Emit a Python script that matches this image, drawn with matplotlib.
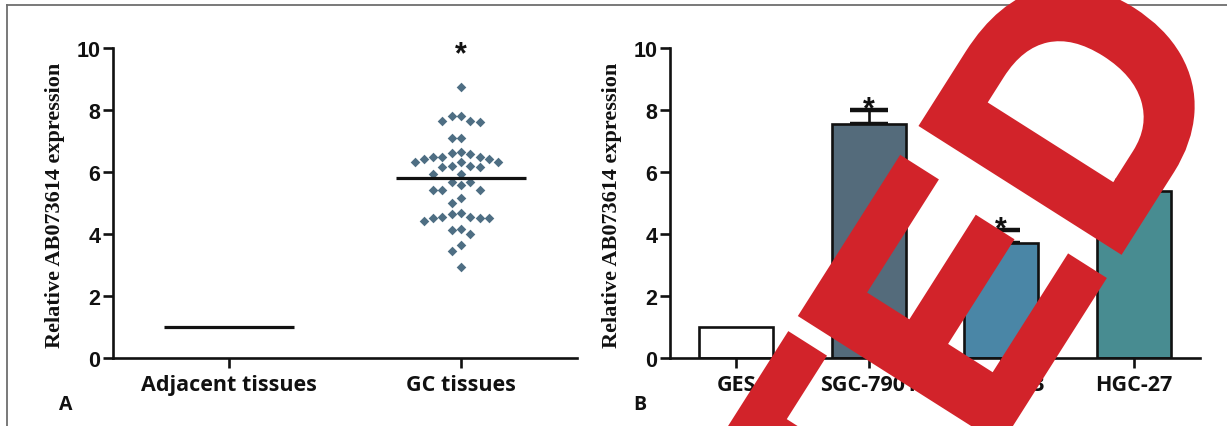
import numpy as np
import matplotlib
matplotlib.use("Agg")
import matplotlib.pyplot as plt
from matplotlib import patheffects
from matplotlib.lines import Line2D

W, H = 1227, 427
DPI = 100

SANS = "Liberation Sans"
LABEL_FONT = "Open Sans"
SERIF = "Liberation Serif"

POINT_COLOR = "#4e6e83"
BAR_COLORS = ["#ffffff", "#546b7b", "#4a86a6", "#488c91"]
STAMP_RED = "#d2232a"
BORDER = "#6e6e6e"
INK = "#111111"

# panel A
GROUPS = ["Adjacent tissues", "GC tissues"]
ADJACENT_LEVEL = 1.0
GC_VALUES = [
    8.75, 7.80, 7.80, 7.63, 7.60, 7.63, 7.09, 7.09,
    6.60, 6.58, 6.63, 6.47, 6.47, 6.47, 6.43, 6.42,
    6.32, 6.31, 6.33, 6.18, 6.16, 6.16, 6.18, 5.92, 5.92,
    5.67, 5.58, 5.67, 5.43, 5.43, 5.43, 5.15, 5.00,
    4.67, 4.56, 4.53, 4.51, 4.41, 4.51, 4.56, 4.64,
    4.16, 4.13, 4.00, 3.65, 3.46, 2.94,
]
GC_MEAN = 5.80

# panel B
CELLS = ["GES", "SGC-7901", "BGC-823", "HGC-27"]
EXPR = [1.0, 7.55, 3.72, 5.38]
EXPR_ERR = [0.0, 0.44, 0.41, 0.32]
SIGNIF = ["", "*", "*", "*"]

YTICKS = [0, 2, 4, 6, 8, 10]
YLABEL = "Relative AB073614 expression"

plt.rcParams["font.family"] = SANS
plt.rcParams["font.weight"] = "bold"


def px_x(v):
    return v / W


def px_y(v):
    return 1 - v / H


def swarm_slots(values, min_dy):
    # greedy beeswarm: each point takes the closest free column slot
    order = np.argsort(values)[::-1]
    placed = []
    slots = np.zeros(len(values))
    for i in order:
        v = values[i]
        for k in [0, -1, 1, -2, 2, -3, 3, -4, 4, -5, 5]:
            if all(not (s == k and abs(v - pv) < min_dy) for s, pv in placed):
                break
        placed.append((k, v))
        slots[i] = k
    return slots


def style_axes(ax, labels):
    for side in ("top", "right"):
        ax.spines[side].set_visible(False)
    for side in ("left", "bottom"):
        ax.spines[side].set_linewidth(1.9)
        ax.spines[side].set_color(INK)
    ax.set_ylim(0, 10)
    ax.set_yticks(YTICKS)
    ax.set_yticklabels([str(t) for t in YTICKS], fontsize=15.5, fontweight="bold",
                       family=SANS, color=INK)
    ax.set_xticks(range(len(labels)))
    ax.set_xticklabels(labels, fontsize=15.5, fontweight="bold", family=LABEL_FONT,
                       color=INK)
    ax.tick_params(axis="both", length=7.5, width=1.9, color=INK)
    ax.tick_params(axis="y", pad=1.5)
    ax.tick_params(axis="x", pad=4)


fig = plt.figure(figsize=(W / DPI, H / DPI), dpi=DPI)
fig.patch.set_facecolor("white")

ax_a = fig.add_axes([px_x(113), px_y(359), px_x(577) - px_x(113), px_y(49) - px_y(359)])
ax_b = fig.add_axes([px_x(670), px_y(359), px_x(1200) - px_x(670), px_y(49) - px_y(359)])

# ---- panel A
gc = np.array(GC_VALUES)
slots = swarm_slots(gc, 0.3)
ax_a.scatter(1 + slots * 0.04, gc, marker="D", s=24, color=POINT_COLOR, linewidths=0, zorder=3)
ax_a.hlines(ADJACENT_LEVEL, -0.28, 0.28, color=INK, lw=2.3, zorder=4)
ax_a.hlines(GC_MEAN, 1 - 0.28, 1 + 0.28, color=INK, lw=2.3, zorder=4)
ax_a.text(1, 9.32, "*", ha="center", va="bottom", fontsize=22, fontweight="bold",
          family=SANS, color=INK)
ax_a.set_xlim(-0.5, 1.5)
style_axes(ax_a, GROUPS)

# ---- panel B
idx = np.arange(len(CELLS))
ax_b.bar(idx, EXPR, width=0.56, color=BAR_COLORS, edgecolor=INK, linewidth=1.9, zorder=2)
for i, (v, e, s) in enumerate(zip(EXPR, EXPR_ERR, SIGNIF)):
    if e > 0:
        ax_b.errorbar(i, v, yerr=[[0], [e]], fmt="none", ecolor=INK,
                      elinewidth=1.9, capsize=14, capthick=3.2, zorder=1)
    if s:
        ax_b.text(i, v + e - 0.45, s, ha="center", va="bottom", fontsize=22,
                  fontweight="bold", family=SANS, color=INK)
ax_b.set_xlim(-0.5, 3.5)
style_axes(ax_b, CELLS)

# axis titles and panel letters
for xc in (55, 612):
    fig.text(px_x(xc), px_y(205), YLABEL, rotation=90, ha="center", va="center",
             family=SERIF, fontweight="bold", fontsize=16, color=INK)
fig.text(px_x(59), px_y(410), "A", family=LABEL_FONT, fontweight="bold", fontsize=14,
         ha="left", va="baseline", color=INK)
fig.text(px_x(633), px_y(410), "B", family=LABEL_FONT, fontweight="bold", fontsize=14,
         ha="left", va="baseline", color=INK)

# grey frame
fig.add_artist(Line2D([px_x(7), px_x(7)], [px_y(6), -0.1], transform=fig.transFigure,
                      color=BORDER, lw=1.3))
fig.add_artist(Line2D([px_x(7), 1.1], [px_y(6), px_y(6)], transform=fig.transFigure,
                      color=BORDER, lw=1.3))

# retraction stamp (heavier stroke than the plain bold face)
stamp = fig.text(px_x(1239), px_y(63), "RETRACTED", rotation=57.6, rotation_mode="anchor",
                 ha="right", va="baseline", fontsize=243, fontweight="bold", family=SANS,
                 color=STAMP_RED, zorder=10)
stamp.set_path_effects([patheffects.withStroke(linewidth=6, foreground=STAMP_RED,
                                               joinstyle="miter")])

fig.savefig("out.png", dpi=DPI, facecolor="white")
